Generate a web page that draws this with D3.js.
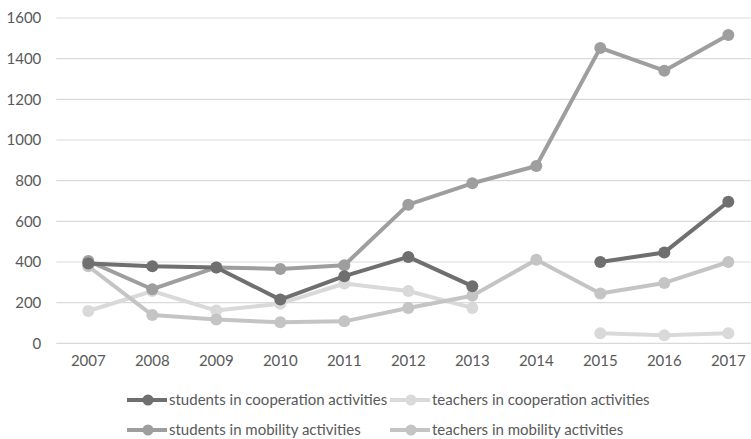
<!DOCTYPE html>
<html>
<head>
<meta charset="utf-8">
<script src="https://cdn.jsdelivr.net/npm/d3@7"></script>
<style>
  html, body { margin: 0; padding: 0; background: #fff; }
  svg { display: block; font-family: Lato, "Open Sans", sans-serif; }
</style>
</head>
<body>
<svg id="chart" width="751" height="439"></svg>
<script>
// Participants per year, 2007–2017 (null = no data that year)
const years = ["2007","2008","2009","2010","2011","2012","2013","2014","2015","2016","2017"];
const studentsCooperation = [392, 379, 373, 215, 330, 425, 281, null, 400, 447, 696];
const teachersCooperation = [159, 257, 161, 195, 294, 257, 174, null, 49, 39, 49];
const studentsMobility   = [405, 266, 373, 366, 384, 682, 787, 872, 1453, 1341, 1516];
const teachersMobility   = [379, 139, 117, 103, 108, 174, 234, 411, 245, 297, 400];
const yTicks = [0, 200, 400, 600, 800, 1000, 1200, 1400, 1600];

const series = [
  { name: "students in cooperation activities", values: studentsCooperation, color: "#6f6f6f" },
  { name: "teachers in cooperation activities", values: teachersCooperation, color: "#d9d9d9" },
  { name: "students in mobility activities", values: studentsMobility, color: "#9e9e9e" },
  { name: "teachers in mobility activities", values: teachersMobility, color: "#c4c4c4" }
];
// draw order: lighter lines underneath
const drawOrder = [1, 3, 2, 0];

const svg = d3.select("#chart");
const plot = { left: 56.3, right: 760.3, top: 18, bottom: 343.3 };
const fontSize = 15;

const x = d3.scaleBand().domain(years).range([plot.left, plot.right]);
const y = d3.scaleLinear().domain([0, 1600]).range([plot.bottom, plot.top]);
const cx = d => x(d) + x.bandwidth() / 2;

// horizontal gridlines
svg.append("g")
  .selectAll("line")
  .data(yTicks)
  .join("line")
  .attr("x1", plot.left).attr("x2", plot.right)
  .attr("y1", d => y(d)).attr("y2", d => y(d))
  .attr("stroke", "#d9d9d9").attr("stroke-width", 1.2);

// y axis labels
const yAxis = svg.append("g")
  .attr("transform", `translate(${plot.left - 15},0)`)
  .call(d3.axisLeft(y).tickValues(yTicks).tickFormat(d3.format("d")).tickSize(0).tickPadding(0));
yAxis.select(".domain").remove();
yAxis.selectAll("text")
  .attr("fill", "#595959").attr("font-size", fontSize)
  .attr("font-family", "Lato, 'Open Sans', sans-serif");

// x axis labels
const xAxis = svg.append("g")
  .attr("transform", `translate(0,${plot.bottom + 12})`)
  .call(d3.axisBottom(x).tickSize(0).tickPadding(0));
xAxis.select(".domain").remove();
xAxis.selectAll("text")
  .attr("fill", "#595959").attr("font-size", fontSize)
  .attr("font-family", "Lato, 'Open Sans', sans-serif");

const line = d3.line()
  .defined(d => d.v !== null)
  .x(d => cx(d.year))
  .y(d => y(d.v));

drawOrder.forEach(i => {
  const s = series[i];
  const pts = years.map((yr, k) => ({ year: yr, v: s.values[k] }));
  const g = svg.append("g");
  g.append("path")
    .datum(pts)
    .attr("d", line)
    .attr("fill", "none")
    .attr("stroke", s.color)
    .attr("stroke-width", 4)
    .attr("stroke-linejoin", "round");
  g.selectAll("circle")
    .data(pts.filter(p => p.v !== null))
    .join("circle")
    .attr("cx", p => cx(p.year))
    .attr("cy", p => y(p.v))
    .attr("r", 6)
    .attr("fill", s.color);
});

// legend: two rows, two columns
const legendPos = [
  { x: 127, y: 400 }, { x: 390, y: 400 },
  { x: 127, y: 430 }, { x: 390, y: 430 }
];
series.forEach((s, i) => {
  const p = legendPos[i];
  const g = svg.append("g").attr("transform", `translate(${p.x},${p.y})`);
  g.append("line").attr("x1", 0).attr("x2", 40).attr("y1", 0).attr("y2", 0)
    .attr("stroke", s.color).attr("stroke-width", 4);
  g.append("circle").attr("cx", 21).attr("cy", 0).attr("r", 5.5).attr("fill", s.color);
  g.append("text").attr("x", 42).attr("y", 0).attr("dy", "0.35em")
    .attr("font-size", fontSize).attr("fill", "#595959")
    .text(s.name);
});
</script>
</body>
</html>
